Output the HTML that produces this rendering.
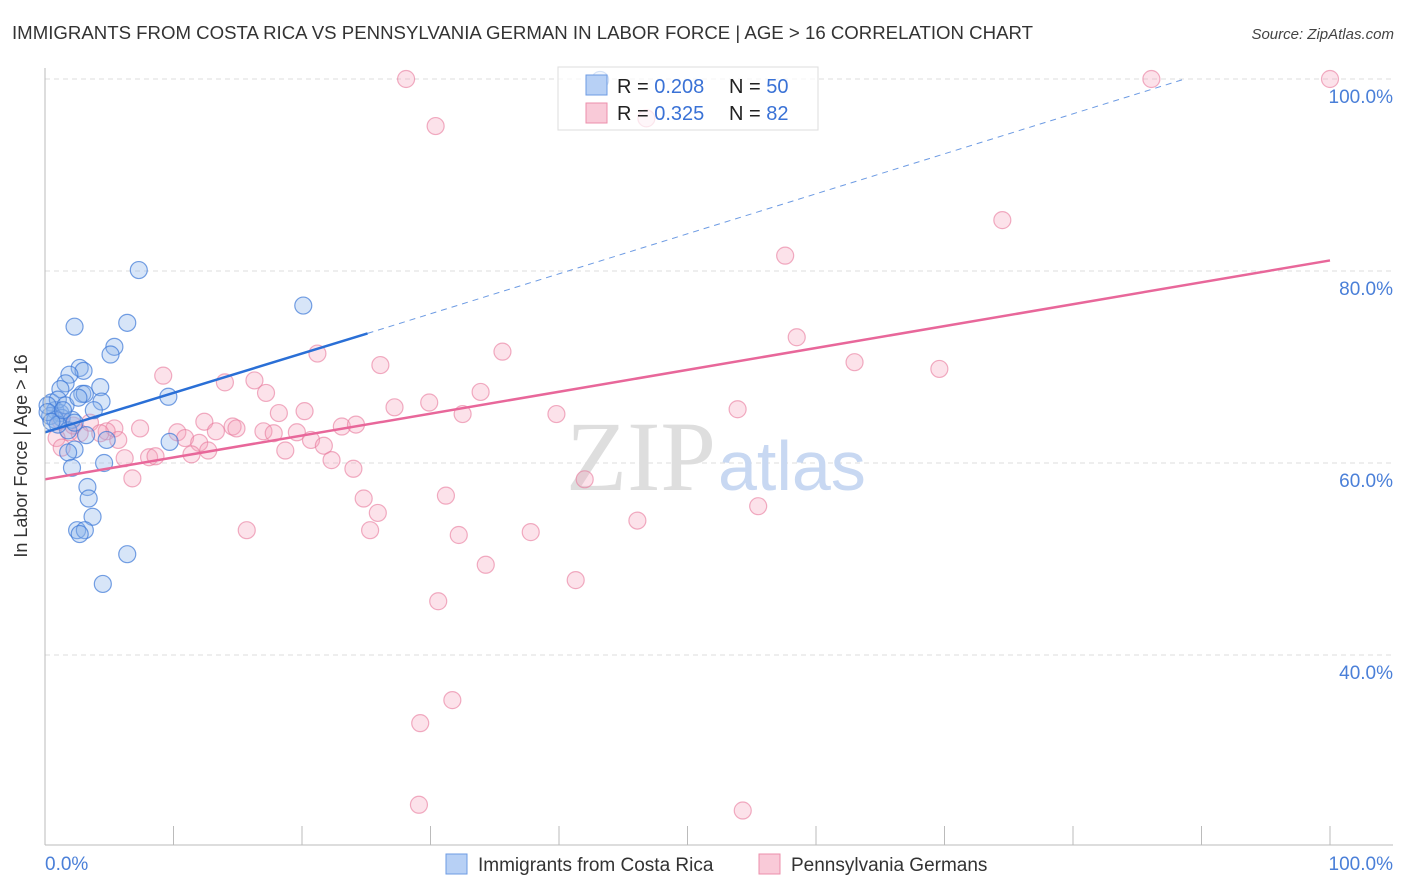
<!DOCTYPE html>
<html><head><meta charset="utf-8"><style>
body{margin:0;background:#fff;font-family:"Liberation Sans",sans-serif;}
#wrap{position:relative;width:1406px;height:892px;overflow:hidden;}
</style></head><body>
<div id="wrap">
<svg id="svg" width="1406" height="892" xmlns="http://www.w3.org/2000/svg">
<text x="12" y="39" font-size="18" fill="#333" textLength="1021" lengthAdjust="spacingAndGlyphs">IMMIGRANTS FROM COSTA RICA VS PENNSYLVANIA GERMAN IN LABOR FORCE | AGE &gt; 16 CORRELATION CHART</text>
<text x="1394" y="39" font-size="15" fill="#444" font-style="italic" text-anchor="end">Source: ZipAtlas.com</text>
<g id="grid"></g>
<text x="716" y="490" font-size="100" fill="#dedede" text-anchor="end" font-family="Liberation Serif,serif">ZIP</text>
<text x="718" y="490" font-size="70" fill="#c8d8f2">atlas</text>
<g id="pts"></g>
<g id="lines"></g>
<g id="axes"></g>
<g>
<rect x="558" y="67" width="260" height="63" fill="#fff" fill-opacity="0.7" stroke="#ddd"/>
<rect x="586" y="75" width="21" height="20" fill="#b7d0f5" stroke="#6d9be3"/>
<rect x="586" y="103" width="21" height="20" fill="#f9cad8" stroke="#ec8fab"/>
<text x="617" y="93" font-size="20" fill="#222">R = <tspan fill="#3a72d6">0.208</tspan></text>
<text x="729" y="93" font-size="20" fill="#222">N = <tspan fill="#3a72d6">50</tspan></text>
<text x="617" y="120" font-size="20" fill="#222">R = <tspan fill="#3a72d6">0.325</tspan></text>
<text x="729" y="120" font-size="20" fill="#222">N = <tspan fill="#3a72d6"> 82</tspan></text>
</g>
<text x="27" y="456" font-size="18" fill="#333" text-anchor="middle" transform="rotate(-90 27 456)">In Labor Force | Age &gt; 16</text>
<text x="45" y="870" font-size="19" fill="#4a7fd8">0.0%</text>
<text x="1393" y="870" font-size="19" fill="#4a7fd8" text-anchor="end">100.0%</text>
<g>
<rect x="446" y="854" width="21" height="20" fill="#b7d0f5" stroke="#6d9be3"/>
<text x="478" y="871" font-size="19" fill="#333">Immigrants from Costa Rica</text>
<rect x="759" y="854" width="21" height="20" fill="#f9cad8" stroke="#ec8fab"/>
<text x="791" y="871" font-size="19" fill="#333">Pennsylvania Germans</text>
</g>
</svg>
</div>
<script>
const yTicks=[40,60,80,100];
const yTickLabels=["40.0%","60.0%","80.0%","100.0%"];
const xTicks=[0,10,20,30,40,50,60,70,80,90,100];
const blueX=[7.3,20.1,2.3,6.4,5.4,5.1,2.7,3.0,1.9,1.6,1.2,4.3,2.9,3.1,4.4,9.6,3.8,0.5,0.8,1.2,0.4,1.3,0.8,2.1,1.8,3.2,4.8,9.7,2.3,1.8,4.6,2.1,3.3,3.4,3.7,2.5,3.1,2.7,6.4,4.5,43.2,1.0,0.2,0.2,1.0,1.6,2.6,0.5,1.4,2.3];
const blueY=[80.1,76.4,74.2,74.6,72.1,71.3,69.9,69.6,69.2,68.3,67.7,67.9,67.2,67.2,66.4,66.9,65.5,66.3,65.5,65.2,64.9,64.7,64.5,64.5,63.4,62.9,62.4,62.2,61.4,61.1,60.0,59.5,57.5,56.3,54.4,53.0,53.0,52.6,50.5,47.4,99.9,66.6,66.0,65.3,64.0,66.0,66.8,64.3,65.5,64.2];
const pinkX=[28.1,30.4,46.8,86.1,100,74.5,57.6,58.5,63.0,69.6,53.9,39.8,35.6,26.1,21.2,9.2,14.0,16.3,17.2,33.9,29.9,27.2,32.5,18.2,20.2,12.4,14.6,14.9,13.3,17.0,17.8,19.6,23.1,24.2,7.4,5.4,4.8,3.5,10.3,10.9,12.0,5.7,1.9,0.9,20.7,21.7,18.7,12.7,11.4,6.2,8.1,8.6,22.3,24.0,6.8,42.0,24.8,31.2,55.5,25.9,46.1,15.7,25.3,37.8,32.2,34.3,41.3,30.6,31.7,29.2,29.1,54.3,1.3,2.7,4.3,1.2,2.2];
const pinkY=[100,95.1,95.9,100,100,85.3,81.6,73.1,70.5,69.8,65.6,65.1,71.6,70.2,71.4,69.1,68.4,68.6,67.3,67.4,66.3,65.8,65.1,65.2,65.4,64.3,63.8,63.6,63.3,63.3,63.1,63.2,63.8,64.0,63.6,63.6,63.3,64.2,63.2,62.6,62.1,62.4,63.2,62.6,62.4,61.8,61.3,61.3,60.9,60.5,60.6,60.7,60.3,59.4,58.4,58.3,56.3,56.6,55.5,54.8,54.0,53.0,53.0,52.8,52.5,49.4,47.8,45.6,35.3,32.9,24.4,23.8,61.6,63.1,63.1,64.4,63.9];
const blueTrendX=[0,25.1,88.7];
const blueTrendY=[63.2,73.5,100];
const pinkTrendX=[0,100];
const pinkTrendY=[58.3,81.1];

const NS="http://www.w3.org/2000/svg";
const sx=v=>45+v*12.85;
const sy=v=>79+(100-v)*9.6;
function mk(tag,attrs,parent){const e=document.createElementNS(NS,tag);for(const k in attrs)e.setAttribute(k,attrs[k]);parent.appendChild(e);return e;}
const grid=document.getElementById('grid'),axes=document.getElementById('axes'),pts=document.getElementById('pts'),lines=document.getElementById('lines');
yTicks.forEach((t,i)=>{
  const l=mk('line',{x1:45,x2:1393,y1:sy(t),y2:sy(t),stroke:'#ddd','stroke-dasharray':'5,4'},grid);
  
  
  const tx=mk('text',{x:1393,y:sy(t)+24,'font-size':19,fill:'#4a7fd8','text-anchor':'end'},axes);
  tx.textContent=yTickLabels[i];
  
  
});
const ax=mk('line',{x1:45,x2:1393,y1:845,y2:845,stroke:'#bbb'},axes);


const ay=mk('line',{x1:45,x2:45,y1:68,y2:845,stroke:'#bbb'},axes);


xTicks.forEach(t=>{
  const l=mk('line',{x1:sx(t),x2:sx(t),y1:826,y2:845,stroke:'#bbb'},axes);
  
  
});
pinkX.forEach((x,i)=>{
  const c=mk('circle',{cx:sx(x),cy:sy(pinkY[i]),r:8.5,fill:'rgba(244,160,186,0.3)',stroke:'rgba(232,120,155,0.6)','stroke-width':1.2},pts);
  
  
});
blueX.forEach((x,i)=>{
  const c=mk('circle',{cx:sx(x),cy:sy(blueY[i]),r:8.5,fill:'rgba(140,180,236,0.35)',stroke:'rgba(60,120,215,0.7)','stroke-width':1.2},pts);
  
  
});
const bs=mk('line',{x1:sx(blueTrendX[0]),y1:sy(blueTrendY[0]),x2:sx(blueTrendX[1]),y2:sy(blueTrendY[1]),stroke:'#2a6fd6','stroke-width':2.5},lines);


const bd=mk('line',{x1:sx(blueTrendX[1]),y1:sy(blueTrendY[1]),x2:sx(blueTrendX[2]),y2:sy(blueTrendY[2]),stroke:'#6d9be3','stroke-width':1,'stroke-dasharray':'6,5'},lines);


const pl=mk('line',{x1:sx(pinkTrendX[0]),y1:sy(pinkTrendY[0]),x2:sx(pinkTrendX[1]),y2:sy(pinkTrendY[1]),stroke:'#e8679a','stroke-width':2.5},lines);


</script>
</body></html>
